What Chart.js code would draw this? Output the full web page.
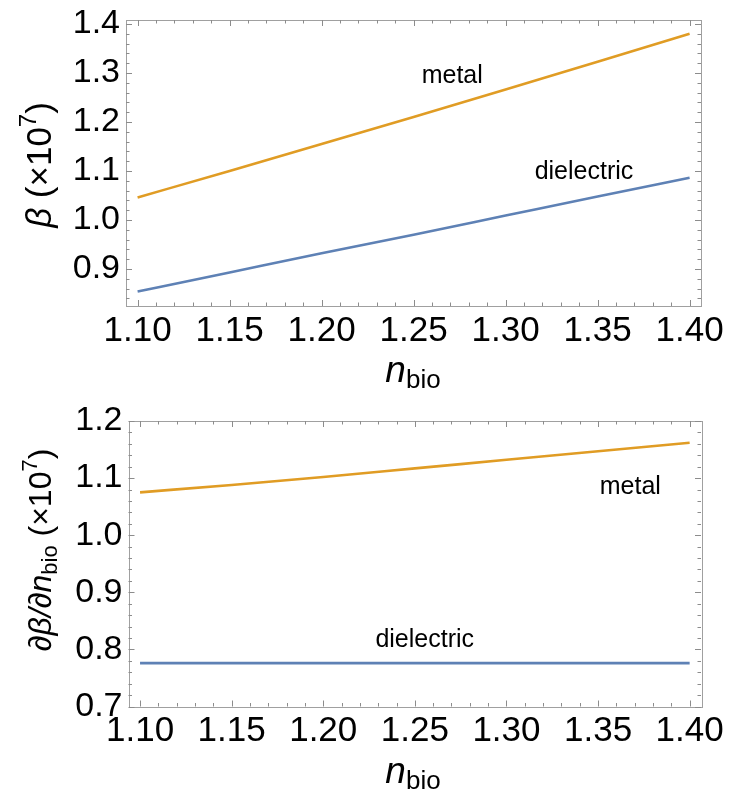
<!DOCTYPE html>
<html>
<head>
<meta charset="utf-8">
<script src="https://cdn.jsdelivr.net/npm/chart.js@4.4.1/dist/chart.umd.min.js"></script>
<style>
  html, body { margin: 0; padding: 0; background: #ffffff; }
  .panel { position: relative; width: 733px; height: 395px; }
</style>
</head>
<body>
<div class="panel"><canvas id="betaChart"></canvas></div>
<div class="panel"><canvas id="slopeChart"></canvas></div>
<script>
// Refractive index of the bio layer
const nBio = [1.10, 1.15, 1.20, 1.25, 1.30, 1.35, 1.40];

// Propagation constant β (×10^7)
const betaMetal      = [1.046, 1.100, 1.155, 1.210, 1.266, 1.323, 1.380];
const betaDielectric = [0.854, 0.893, 0.932, 0.970, 1.009, 1.048, 1.086];

// Sensitivity ∂β/∂n_bio (×10^7)
const slopeMetal      = [1.075, 1.088, 1.102, 1.117, 1.132, 1.147, 1.162];
const slopeDielectric = [0.776, 0.776, 0.776, 0.776, 0.776, 0.776, 0.776];

// Tick labels
const xTickValues     = [1.10, 1.15, 1.20, 1.25, 1.30, 1.35, 1.40];
const betaTickValues  = [0.9, 1.0, 1.1, 1.2, 1.3, 1.4];
const slopeTickValues = [0.7, 0.8, 0.9, 1.0, 1.1, 1.2];

const ORANGE = '#e09c24';
const BLUE = '#5e81b5';
const FRAME = '#a0a0a0';
const TICK = '#8c8c8c';
const SANS = '"Liberation Sans", Arial, Helvetica, sans-serif';

const toPoints = (xs, ys) => xs.map((x, i) => ({ x: x, y: ys[i] }));

// Frame with inward major/minor ticks on all four sides
const framePlugin = {
  id: 'frameTicks',
  beforeDatasetsDraw(chart, args, opts) {
    const { ctx, chartArea: a, scales } = chart;
    const xs = scales.x, ys = scales.y;
    ctx.save();
    ctx.strokeStyle = FRAME;
    ctx.lineWidth = 1;
    ctx.strokeRect(Math.round(a.left) + 0.5, Math.round(a.top) + 0.5,
                   Math.round(a.right - a.left), Math.round(a.bottom - a.top));
    ctx.strokeStyle = TICK;
    ctx.beginPath();
    const xMaj = opts.xMajor, yMaj = opts.yMajor;
    const drawX = (v, len) => {
      const px = Math.round(xs.getPixelForValue(v)) + 0.5;
      ctx.moveTo(px, a.bottom); ctx.lineTo(px, a.bottom - len);
      ctx.moveTo(px, a.top); ctx.lineTo(px, a.top + len);
    };
    const drawY = (v, len) => {
      const py = Math.round(ys.getPixelForValue(v)) + 0.5;
      ctx.moveTo(a.left, py); ctx.lineTo(a.left + len, py);
      ctx.moveTo(a.right, py); ctx.lineTo(a.right - len, py);
    };
    const xStep = (xMaj[1] - xMaj[0]) / opts.xMinor;
    for (let v = xMaj[0] - xStep * opts.xMinor; v <= xs.max + 1e-9; v += xStep) {
      if (v < xs.min) continue;
      const k = Math.round((v - xMaj[0]) / xStep);
      drawX(v, k % opts.xMinor === 0 ? 6 : 3.5);
    }
    const yStep = (yMaj[1] - yMaj[0]) / opts.yMinor;
    for (let v = yMaj[0] - yStep * opts.yMinor; v <= ys.max + 1e-9; v += yStep) {
      if (v < ys.min - 1e-9) continue;
      const k = Math.round((v - yMaj[0]) / yStep);
      drawY(v, k % opts.yMinor === 0 ? 6 : 3.5);
    }
    ctx.stroke();
    ctx.restore();
  }
};

// Rich text run: [{t, font, dy}]
function drawRich(ctx, parts, x, y, align) {
  let total = 0;
  parts.forEach(p => { ctx.font = p.font; total += ctx.measureText(p.t).width; });
  let cx = align === 'center' ? x - total / 2 : x;
  parts.forEach(p => {
    ctx.font = p.font;
    ctx.fillText(p.t, cx, y + (p.dy || 0));
    cx += ctx.measureText(p.t).width;
  });
}

// Axis titles and curve annotations
const labelsPlugin = {
  id: 'labels',
  afterDraw(chart, args, opts) {
    const { ctx, chartArea: a, scales } = chart;
    ctx.save();
    ctx.fillStyle = '#000';
    ctx.textAlign = 'left';
    ctx.textBaseline = 'alphabetic';
    drawRich(ctx, [
      { t: 'n', font: 'italic 37px ' + SANS },
      { t: 'bio', font: '26px ' + SANS, dy: 6 }
    ], opts.xTitleX, a.bottom + opts.xTitleDy, 'center');
    ctx.save();
    ctx.translate(opts.yTitleX, opts.yTitleY);
    ctx.rotate(-Math.PI / 2);
    drawRich(ctx, opts.yTitle, 0, 0, 'center');
    ctx.restore();
    ctx.textAlign = 'center';
    ctx.textBaseline = 'middle';
    ctx.font = '25px ' + SANS;
    opts.notes.forEach(n => {
      ctx.fillText(n.text, scales.x.getPixelForValue(n.x), scales.y.getPixelForValue(n.y));
    });
    ctx.restore();
  }
};

function makeChart(id, cfg) {
  return new Chart(document.getElementById(id), {
    type: 'line',
    data: {
      datasets: [
        { data: toPoints(nBio, cfg.metal), borderColor: ORANGE, borderWidth: 2.6,
          pointRadius: 0, cubicInterpolationMode: 'monotone', fill: false },
        { data: toPoints(nBio, cfg.dielectric), borderColor: BLUE, borderWidth: 2.6,
          pointRadius: 0, cubicInterpolationMode: 'monotone', fill: false }
      ]
    },
    options: {
      responsive: true,
      maintainAspectRatio: false,
      animation: false,
      events: [],
      layout: { padding: { left: 0, top: cfg.top, right: cfg.right, bottom: 0 } },
      plugins: {
        legend: { display: false },
        tooltip: { enabled: false },
        frameTicks: { xMajor: xTickValues, yMajor: cfg.yTicks, xMinor: 5, yMinor: 5 },
        labels: cfg.labels
      },
      scales: {
        x: {
          type: 'linear', min: 1.0937, max: 1.4062,
          grid: { display: false, drawTicks: false }, border: { display: false },
          afterBuildTicks: s => { s.ticks = xTickValues.map(v => ({ value: v })); },
          afterFit: s => { s.height = cfg.xHeight; },
          ticks: { color: '#000', padding: 4, maxRotation: 0, autoSkip: false,
                   font: { family: SANS, size: 35 }, callback: v => v.toFixed(2) }
        },
        y: {
          type: 'linear', min: cfg.yMin, max: cfg.yMax,
          grid: { display: false, drawTicks: false }, border: { display: false },
          afterBuildTicks: s => { s.ticks = cfg.yTicks.map(v => ({ value: v })); },
          afterFit: s => { s.width = cfg.yWidth; },
          ticks: { color: '#000', padding: 6, autoSkip: false,
                   font: { family: SANS, size: 34, lineHeight: 0.8 }, callback: v => v.toFixed(1) }
        }
      }
    },
    plugins: [framePlugin, labelsPlugin]
  });
}

makeChart('betaChart', {
  metal: betaMetal, dielectric: betaDielectric,
  yMin: 0.8245, yMax: 1.408, yTicks: betaTickValues,
  top: 20, right: 32, xHeight: 89, yWidth: 126,
  labels: {
    xTitleX: 413, xTitleDy: 76,
    yTitleX: 51, yTitleY: 165,
    yTitle: [
      { t: 'β', font: 'italic 35px ' + SANS },
      { t: ' (×10', font: '35px ' + SANS },
      { t: '7', font: '24px ' + SANS, dy: -15 },
      { t: ')', font: '35px ' + SANS }
    ],
    notes: [
      { text: 'metal', x: 1.271, y: 1.294 },
      { text: 'dielectric', x: 1.3426, y: 1.098 }
    ]
  }
});

makeChart('slopeChart', {
  metal: slopeMetal, dielectric: slopeDielectric,
  yMin: 0.7, yMax: 1.2, yTicks: slopeTickValues,
  top: 26, right: 32, xHeight: 83.5, yWidth: 128.5,
  labels: {
    xTitleX: 413, xTitleDy: 76,
    yTitleX: 51, yTitleY: 155,
    yTitle: [
      { t: '∂', font: 'italic 32px ' + SANS },
      { t: 'β', font: 'italic 32px ' + SANS },
      { t: '/∂', font: 'italic 32px ' + SANS },
      { t: 'n', font: 'italic 32px ' + SANS },
      { t: 'bio', font: '22px ' + SANS, dy: 6 },
      { t: ' (×10', font: '32px ' + SANS },
      { t: '7', font: '22px ' + SANS, dy: -14 },
      { t: ')', font: '32px ' + SANS }
    ],
    notes: [
      { text: 'metal', x: 1.3676, y: 1.0842 },
      { text: 'dielectric', x: 1.2554, y: 0.8163 }
    ]
  }
});
</script>
</body>
</html>
